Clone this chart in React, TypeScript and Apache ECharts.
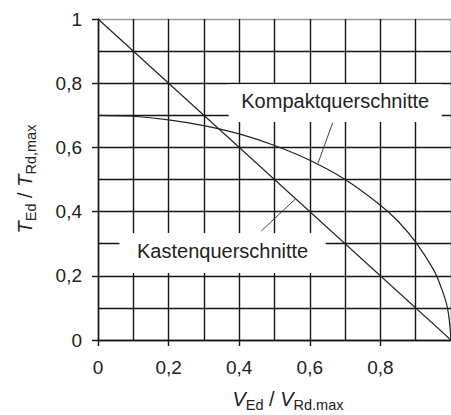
import React, { useEffect, useRef } from 'react';
import * as echarts from 'echarts';

// Data
const diagV = [0, 1];
const diagT = [1, 0];
const curveV = [0, 0.1, 0.2, 0.3, 0.4, 0.5, 0.6, 0.7, 0.8, 0.85, 0.9, 0.95, 0.97, 0.99, 1.0];
const curveT = [0.7, 0.697, 0.686, 0.668, 0.642, 0.606, 0.56, 0.5, 0.42, 0.37, 0.305, 0.22, 0.17, 0.1, 0];
const labelNames = ['Kompaktquerschnitte', 'Kastenquerschnitte'];
// annotation geometry (data coordinates)
const kompaktLeader = [[0.665, 0.677], [0.623, 0.55]];
const kastenLeader = [[0.56, 0.44], [0.463, 0.34]];
const kompaktBox = [[0.37, 0.679], [0.974, 0.797]];
const kastenBox = [[0.061, 0.209], [0.645, 0.333]];

const FONT = 'Liberation Sans, Arial, sans-serif';
const GRID = '#151515';

const fmt = (v: number) => {
  const s = String(Number(v.toFixed(1)));
  return s.replace('.', ',');
};

const titleRich = {
  m: { fontSize: 20, fontStyle: 'italic', fontFamily: FONT, fill: '#222', lineHeight: 20 },
  n: { fontSize: 20, fontFamily: FONT, fill: '#222', lineHeight: 20 },
  s: { fontSize: 14.5, fontFamily: FONT, fill: '#222', lineHeight: 15, padding: [11, 0, 0, 0] },
};

export default function App() {
  const ref = useRef<HTMLDivElement>(null);
  useEffect(() => {
    if (!ref.current) return;
    const chart = echarts.init(ref.current, null, { renderer: 'svg' });
    const axisCommon = {
      type: 'value',
      min: 0,
      max: 1,
      interval: 0.2,
      axisLine: { show: true, onZero: false, lineStyle: { color: GRID, width: 1.4 } },
      axisTick: { show: true, length: 6, lineStyle: { color: GRID, width: 1.4 } },
      minorTick: { show: false, splitNumber: 2 },
      minorSplitLine: { show: true, lineStyle: { color: GRID, width: 1.4 } },
    };
    chart.setOption({
      animation: false,
      grid: { left: 98, top: 19, right: -5, height: 321, containLabel: false },
      xAxis: {
        ...axisCommon,
        axisLabel: {
          show: true, margin: 18, fontSize: 19, fontFamily: FONT, color: '#222',
          formatter: fmt, showMaxLabel: false,
        },
        splitLine: { show: true, lineStyle: { color: GRID, width: 1.4 } },
      },
      yAxis: {
        ...axisCommon,
        axisLabel: { show: true, margin: 16, fontSize: 19, fontFamily: FONT, color: '#222', formatter: fmt },
        splitLine: {
          show: true,
          lineStyle: { color: [GRID, GRID, GRID, GRID, GRID, '#9a9a9a'], width: 1.4 },
        },
      },
      series: [
        {
          type: 'line',
          data: diagV.map((v, i) => [v, diagT[i]]),
          symbol: 'none',
          lineStyle: { color: '#222', width: 1.2 },
          z: 5,
          markArea: {
            silent: true,
            itemStyle: { color: '#ffffff', opacity: 1 },
            label: {
              show: true, position: 'inside', fontSize: 20, fontFamily: FONT, color: '#222',
              formatter: '{b}',
            },
            data: [
              [
                { name: labelNames[0], coord: kompaktBox[0], label: { offset: [0, -2] } },
                { coord: kompaktBox[1] },
              ],
              [
                { name: labelNames[1], coord: kastenBox[0], label: { offset: [0, -2] } },
                { coord: kastenBox[1] },
              ],
            ],
          },
        },
        {
          type: 'line',
          data: curveV.map((v, i) => [v, curveT[i]]),
          symbol: 'none',
          smooth: 0.35,
          lineStyle: { color: '#222', width: 1.2 },
          z: 5,
        },
        {
          type: 'line',
          data: kompaktLeader,
          symbol: 'none',
          lineStyle: { color: '#444', width: 1 },
          z: 5,
        },
        {
          type: 'line',
          data: kastenLeader,
          symbol: 'none',
          lineStyle: { color: '#444', width: 1 },
          z: 5,
        },
      ],
      graphic: [
        {
          type: 'text',
          x: 288,
          y: 399,
          style: {
            text: '{m|V}{s|Ed}{n| / }{m|V}{s|Rd.max}',
            rich: titleRich,
            align: 'center',
            verticalAlign: 'middle',
          },
        },
        {
          type: 'text',
          x: 25,
          y: 179,
          rotation: Math.PI / 2,
          style: {
            text: '{m|T}{s|Ed}{n| / }{m|T}{s|Rd,max}',
            rich: titleRich,
            align: 'center',
            verticalAlign: 'middle',
          },
        },
      ],
    });
    return () => chart.dispose();
  }, []);
  return (
    <div
      ref={ref}
      style={{ position: 'fixed', left: 0, top: 0, width: 451, height: 415, background: '#fff' }}
    />
  );
}
